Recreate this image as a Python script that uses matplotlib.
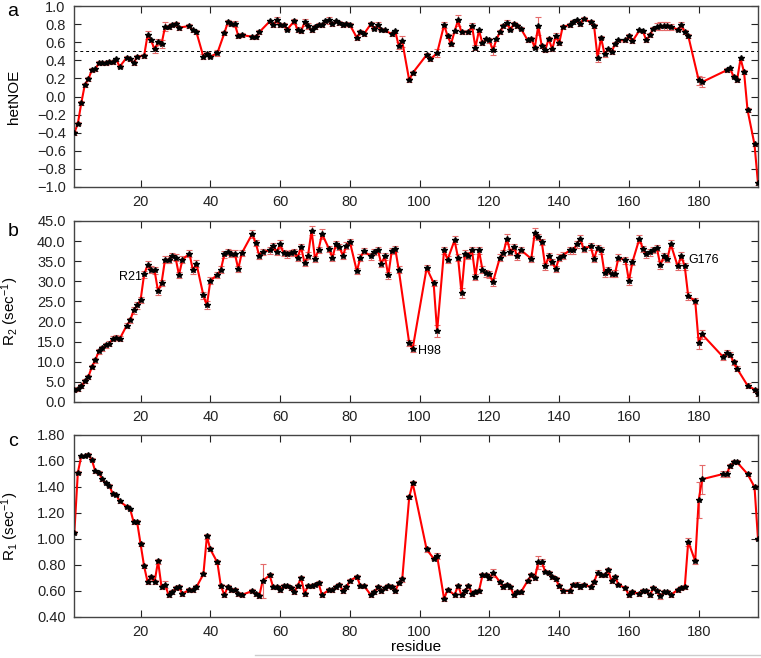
import matplotlib
matplotlib.use('Agg')
import matplotlib.pyplot as plt
from matplotlib.lines import Line2D

plt.rcParams['font.family'] = ['Liberation Sans', 'DejaVu Sans']
plt.rcParams['mathtext.fontset'] = 'custom'
plt.rcParams['mathtext.rm'] = 'Liberation Sans'
plt.rcParams['mathtext.it'] = 'Liberation Sans'

# ---- panel a: hetNOE ----
res_a = [1, 2, 3, 4, 5, 6, 7, 8, 9, 10,
         11, 12, 13, 14, 16, 17, 18, 19, 21, 22,
         23, 24, 25, 26, 27, 28, 29, 30, 31, 34,
         35, 36, 38, 39, 40, 42, 44, 45, 46, 47,
         48, 49, 52, 53, 54, 57, 58, 59, 60, 61,
         62, 64, 65, 66, 67, 68, 69, 70, 71, 72,
         73, 74, 75, 76, 77, 78, 79, 80, 82, 83,
         84, 86, 87, 88, 89, 90, 92, 93, 94, 95,
         97, 98, 102, 103, 105, 107, 108, 109, 110, 111,
         112, 114, 115, 116, 117, 118, 119, 120, 121, 122,
         123, 124, 125, 126, 127, 128, 129, 131, 132, 133,
         134, 135, 136, 137, 138, 139, 140, 141, 143, 144,
         145, 146, 147, 149, 150, 151, 152, 153, 154, 155,
         156, 157, 159, 160, 161, 163, 164, 165, 166, 167,
         168, 169, 170, 171, 172, 174, 175, 176, 177, 180,
         181, 188, 189, 190, 191, 192, 193, 194, 196, 197]
noe = [-0.40, -0.30, -0.07, 0.13, 0.19, 0.29, 0.30, 0.37, 0.37, 0.37,
       0.38, 0.38, 0.41, 0.33, 0.43, 0.41, 0.37, 0.44, 0.45, 0.68,
       0.62, 0.52, 0.60, 0.58, 0.77, 0.77, 0.79, 0.80, 0.76, 0.78,
       0.73, 0.71, 0.44, 0.47, 0.44, 0.48, 0.70, 0.82, 0.80, 0.80,
       0.67, 0.68, 0.66, 0.66, 0.71, 0.83, 0.79, 0.84, 0.79, 0.79,
       0.74, 0.83, 0.74, 0.72, 0.82, 0.78, 0.73, 0.77, 0.79, 0.79,
       0.83, 0.84, 0.80, 0.83, 0.81, 0.79, 0.80, 0.79, 0.65, 0.71,
       0.69, 0.80, 0.75, 0.79, 0.74, 0.73, 0.69, 0.72, 0.56, 0.61,
       0.18, 0.26, 0.46, 0.41, 0.48, 0.79, 0.67, 0.58, 0.72, 0.84,
       0.71, 0.71, 0.78, 0.54, 0.73, 0.59, 0.63, 0.62, 0.51, 0.63,
       0.71, 0.78, 0.81, 0.74, 0.80, 0.78, 0.75, 0.62, 0.64, 0.54,
       0.78, 0.56, 0.51, 0.64, 0.52, 0.67, 0.59, 0.77, 0.79, 0.82,
       0.84, 0.80, 0.86, 0.82, 0.78, 0.43, 0.65, 0.47, 0.52, 0.49,
       0.58, 0.62, 0.62, 0.67, 0.61, 0.73, 0.72, 0.62, 0.68, 0.75,
       0.77, 0.78, 0.78, 0.78, 0.77, 0.74, 0.79, 0.71, 0.67, 0.18,
       0.16, 0.29, 0.31, 0.22, 0.18, 0.42, 0.27, -0.15, -0.53, -0.96]
noe_err = [.02, .02, .02, .02, .02, .02, .02, .02, .02, .02,
           .02, .02, .02, .02, .02, .02, .02, .02, .02, .04,
           .02, .04, .03, .04, .05, .02, .02, .02, .02, .02,
           .02, .02, .03, .02, .02, .03, .02, .03, .02, .03,
           .02, .02, .02, .02, .02, .02, .02, .04, .02, .02,
           .02, .03, .03, .02, .04, .03, .02, .02, .02, .02,
           .02, .04, .02, .02, .02, .02, .02, .02, .03, .02,
           .02, .02, .02, .03, .02, .02, .02, .02, .04, .06,
           .02, .02, .02, .02, .04, .03, .02, .02, .02, .06,
           .02, .02, .03, .03, .02, .02, .02, .03, .05, .02,
           .02, .02, .03, .02, .02, .02, .02, .02, .02, .02,
           .10, .02, .02, .02, .02, .03, .02, .02, .02, .02,
           .02, .02, .02, .02, .02, .05, .02, .03, .02, .02,
           .02, .02, .02, .02, .02, .02, .02, .02, .02, .02,
           .04, .04, .04, .04, .03, .02, .03, .02, .02, .05,
           .05, .02, .02, .02, .02, .02, .02, .02, .02, .02]

# ---- panel b: R2 ----
res_b = [1, 2, 3, 4, 5, 6, 7, 8, 9, 10,
         11, 12, 13, 14, 16, 17, 18, 19, 20, 21,
         22, 23, 24, 25, 26, 27, 28, 29, 30, 31,
         32, 34, 35, 36, 38, 39, 40, 42, 43, 44,
         45, 46, 47, 48, 49, 52, 53, 54, 55, 57,
         58, 59, 60, 61, 62, 63, 64, 65, 66, 67,
         68, 69, 70, 71, 72, 74, 75, 76, 77, 78,
         79, 80, 82, 83, 84, 86, 87, 88, 89, 90,
         91, 92, 93, 94, 97, 98, 102, 104, 105, 107,
         108, 110, 111, 112, 113, 114, 115, 116, 117, 118,
         119, 120, 121, 123, 124, 125, 126, 127, 128, 129,
         132, 133, 134, 135, 136, 137, 138, 139, 140, 141,
         143, 144, 145, 146, 147, 149, 150, 151, 152, 153,
         154, 155, 156, 157, 159, 160, 161, 163, 164, 165,
         166, 167, 168, 169, 170, 171, 172, 174, 175, 176,
         177, 179, 180, 181, 187, 188, 189, 190, 191, 194,
         196, 197]
r2 = [3.0, 3.3, 3.9, 5.2, 6.2, 8.7, 10.4, 12.6, 13.4, 14.1,
      14.5, 15.7, 16.0, 15.7, 19.0, 20.3, 22.8, 24.0, 25.4, 31.7,
      34.1, 32.9, 32.7, 27.5, 29.6, 35.4, 35.4, 36.2, 35.9, 31.6,
      35.4, 36.9, 32.7, 34.4, 26.5, 24.0, 30.2, 31.6, 32.9, 36.7,
      37.3, 36.9, 36.9, 33.1, 37.0, 41.8, 39.5, 36.4, 37.3, 37.7,
      38.7, 37.3, 39.2, 37.0, 36.7, 37.0, 37.2, 35.9, 38.5, 34.6,
      36.4, 42.6, 35.6, 37.8, 41.8, 38.1, 35.9, 39.2, 38.5, 36.4,
      38.9, 39.8, 32.5, 35.9, 37.5, 36.2, 37.3, 37.8, 34.4, 36.2,
      31.5, 37.5, 38.1, 32.9, 14.7, 13.3, 33.3, 29.6, 17.6, 37.7,
      35.4, 40.2, 35.9, 27.1, 36.9, 36.4, 37.7, 31.1, 37.7, 32.9,
      32.0, 31.7, 29.8, 35.9, 37.0, 40.6, 37.3, 38.5, 36.2, 37.8,
      35.6, 42.0, 41.0, 39.8, 33.7, 36.2, 34.8, 33.1, 35.9, 36.4,
      37.7, 37.7, 39.2, 40.6, 38.1, 38.7, 35.6, 38.3, 37.7, 32.0,
      32.7, 31.9, 31.9, 35.9, 35.2, 30.1, 34.8, 40.6, 38.1, 36.7,
      37.2, 37.8, 38.3, 34.0, 36.2, 35.6, 39.2, 33.7, 36.4, 33.7,
      26.3, 25.1, 14.7, 16.8, 11.2, 12.2, 11.8, 9.9, 8.3, 4.1,
      3.1, 2.1]
r2_err = [0.5, 0.5, 0.5, 0.5, 0.5, 0.6, 0.6, 0.6, 0.6, 0.6,
          0.6, 0.6, 0.6, 0.6, 0.7, 0.7, 0.8, 0.8, 0.8, 0.8,
          1.0, 0.8, 0.8, 1.0, 0.8, 0.8, 0.8, 0.8, 0.8, 0.8,
          0.8, 0.8, 0.8, 0.8, 0.8, 1.0, 0.8, 0.8, 0.8, 0.8,
          0.8, 0.8, 0.8, 0.8, 0.8, 1.0, 0.8, 0.8, 0.8, 0.8,
          0.8, 0.8, 1.0, 0.8, 0.8, 0.8, 0.8, 0.8, 0.8, 0.8,
          0.8, 1.2, 0.8, 0.8, 1.2, 0.8, 0.8, 0.8, 0.8, 0.8,
          0.8, 0.8, 0.8, 0.8, 0.8, 0.8, 0.8, 0.8, 0.8, 0.8,
          0.8, 0.8, 0.8, 0.8, 0.8, 0.8, 0.8, 0.8, 1.5, 0.8,
          0.8, 1.0, 0.8, 1.2, 0.8, 0.8, 0.8, 0.8, 0.8, 0.8,
          0.8, 0.8, 1.0, 0.8, 0.8, 1.2, 0.8, 0.8, 0.8, 0.8,
          0.8, 1.2, 0.8, 0.8, 0.8, 0.8, 0.8, 0.8, 0.8, 0.8,
          0.8, 0.8, 0.8, 1.0, 0.8, 0.8, 0.8, 0.8, 0.8, 0.8,
          0.8, 0.8, 0.8, 0.8, 0.8, 1.0, 0.8, 1.0, 0.8, 0.8,
          0.8, 0.8, 0.8, 1.0, 0.8, 0.8, 1.0, 0.8, 1.0, 0.8,
          1.0, 0.8, 1.5, 1.2, 0.8, 0.8, 0.6, 0.6, 0.6, 0.5,
          0.5, 0.5]

# ---- panel c: R1 ----
res_c = [1, 2, 3, 4, 5, 6, 7, 8, 9, 10,
         11, 12, 13, 14, 16, 17, 18, 19, 20, 21,
         22, 23, 24, 25, 26, 27, 28, 29, 30, 31,
         32, 34, 35, 36, 38, 39, 40, 42, 43, 44,
         45, 46, 47, 48, 49, 52, 53, 54, 55, 57,
         58, 59, 60, 61, 62, 63, 64, 65, 66, 67,
         68, 69, 70, 71, 72, 74, 75, 76, 77, 78,
         79, 80, 82, 83, 84, 86, 87, 88, 89, 90,
         91, 92, 93, 94, 95, 97, 98, 102, 104, 105,
         107, 108, 110, 111, 112, 113, 114, 115, 116, 117,
         118, 119, 120, 121, 123, 124, 125, 126, 127, 128,
         129, 131, 132, 133, 134, 135, 136, 137, 138, 139,
         140, 141, 143, 144, 145, 146, 147, 149, 150, 151,
         152, 153, 154, 155, 156, 157, 159, 160, 161, 163,
         164, 165, 166, 167, 168, 169, 170, 171, 172, 174,
         175, 176, 177, 179, 180, 181, 187, 188, 189, 190,
         191, 194, 196, 197]
r1 = [1.05, 1.51, 1.64, 1.64, 1.65, 1.61, 1.52, 1.51, 1.46, 1.43,
      1.41, 1.35, 1.34, 1.29, 1.25, 1.23, 1.13, 1.13, 0.96, 0.79,
      0.67, 0.71, 0.67, 0.83, 0.63, 0.65, 0.57, 0.59, 0.62, 0.63,
      0.58, 0.61, 0.61, 0.63, 0.73, 1.02, 0.92, 0.82, 0.64, 0.57,
      0.63, 0.61, 0.61, 0.58, 0.57, 0.60, 0.58, 0.56, 0.68, 0.72,
      0.63, 0.63, 0.61, 0.64, 0.64, 0.62, 0.59, 0.64, 0.70, 0.58,
      0.64, 0.64, 0.65, 0.66, 0.57, 0.61, 0.61, 0.63, 0.65, 0.60,
      0.63, 0.68, 0.71, 0.64, 0.64, 0.57, 0.59, 0.63, 0.60, 0.62,
      0.64, 0.63, 0.60, 0.66, 0.69, 1.32, 1.43, 0.92, 0.85, 0.87,
      0.54, 0.61, 0.57, 0.64, 0.57, 0.60, 0.64, 0.58, 0.59, 0.60,
      0.72, 0.72, 0.70, 0.74, 0.67, 0.63, 0.65, 0.63, 0.57, 0.59,
      0.59, 0.68, 0.72, 0.70, 0.82, 0.82, 0.75, 0.74, 0.71, 0.69,
      0.64, 0.60, 0.60, 0.65, 0.65, 0.63, 0.65, 0.63, 0.67, 0.74,
      0.72, 0.72, 0.76, 0.68, 0.71, 0.65, 0.62, 0.57, 0.59, 0.58,
      0.60, 0.60, 0.57, 0.62, 0.60, 0.56, 0.59, 0.59, 0.57, 0.61,
      0.62, 0.63, 0.98, 0.83, 1.30, 1.46, 1.50, 1.50, 1.56, 1.59,
      1.59, 1.50, 1.40, 1.00]
r1_err = [.01, .01, .01, .01, .01, .01, .01, .01, .01, .01,
          .01, .01, .01, .01, .01, .01, .015, .015, .015, .015,
          .015, .015, .015, .02, .015, .03, .015, .015, .015, .015,
          .015, .015, .015, .015, .015, .02, .015, .015, .015, .015,
          .015, .015, .015, .015, .015, .015, .015, .015, .13, .015,
          .015, .015, .015, .015, .015, .015, .015, .015, .015, .015,
          .015, .015, .015, .015, .015, .015, .015, .015, .015, .015,
          .015, .015, .015, .015, .015, .015, .015, .015, .015, .015,
          .015, .015, .015, .015, .02, .015, .015, .02, .015, .02,
          .015, .015, .015, .015, .015, .015, .015, .015, .015, .015,
          .015, .015, .015, .03, .015, .015, .015, .015, .015, .015,
          .015, .015, .015, .015, .05, .03, .015, .015, .015, .015,
          .015, .015, .015, .015, .02, .015, .015, .015, .015, .02,
          .015, .015, .015, .015, .015, .015, .015, .015, .015, .015,
          .015, .015, .015, .015, .015, .02, .015, .015, .015, .015,
          .015, .015, .03, .02, .14, .11, .02, .02, .015, .015,
          .015, .015, .015, .01]

fig = plt.figure(figsize=(7.61, 6.58), dpi=100)
W, H = 761, 658

def make_axes(top, bottom):
    return fig.add_axes([74 / W, 1 - bottom / H, 684 / W, (bottom - top) / H])

ax_a = make_axes(6, 187)
ax_b = make_axes(221, 402)
ax_c = make_axes(435, 617)

panels = [
    (ax_a, res_a, noe, noe_err, 'hetNOE', (-1.0, 1.0), 0.2, '{:.1f}'),
    (ax_b, res_b, r2, r2_err, r'R$_2$ (sec$^{-1}$)', (0.0, 45.0), 5.0, '{:.1f}'),
    (ax_c, res_c, r1, r1_err, r'R$_1$ (sec$^{-1}$)', (0.40, 1.80), 0.20, '{:.2f}'),
]

for ax, res, vals, err, ylab, ylim, step, fmt in panels:
    ax.errorbar(res, vals, yerr=err, fmt='none', ecolor='#e46a6a',
                elinewidth=0.8, capsize=2.5, capthick=0.8, zorder=1)
    ax.plot(res, vals, color='#ff0000', lw=1.5, zorder=2)
    ax.plot(res, vals, ls='none', marker='*', ms=3.8, color='black', zorder=3)
    ax.set_xlim(0.9, 197)
    ax.set_ylim(*ylim)
    ax.set_xticks(range(20, 181, 20))
    n = int(round((ylim[1] - ylim[0]) / step))
    yt = [ylim[0] + i * step for i in range(n + 1)]
    ax.set_yticks(yt)
    ax.set_yticklabels([fmt.format(v).replace('-', '\u2212') for v in yt])
    ax.tick_params(direction='in', top=True, right=True, length=5, width=0.8,
                   labelsize=10.5, pad=6, colors='#222222')
    for s in ax.spines.values():
        s.set_color('#444444')
        s.set_linewidth(1.0)
    ax.set_ylabel(ylab, fontsize=11)
    ax.yaxis.set_label_coords(-0.078, 0.5)

ax_a.axhline(0.5, color='black', ls=(0, (3, 3)), lw=0.7, zorder=0)

ax_b.text(20.3, 31.2, 'R21', ha='right', va='center', fontsize=9)
ax_b.text(99.4, 12.8, 'H98', ha='left', va='center', fontsize=9)
ax_b.text(176.9, 35.2, 'G176', ha='left', va='center', fontsize=9)

for letter, y in [('a', 12), ('b', 232), ('c', 442)]:
    fig.text(13 / W, 1 - y / H, letter, ha='center', va='center', fontsize=14)

fig.text(416 / W, 1 - 647 / H, 'residue', ha='center', va='center', fontsize=11)
fig.add_artist(Line2D([255 / W, 1.0], [1 - 655 / H, 1 - 655 / H], color='#cccccc', lw=1))

fig.savefig('out.png', dpi=100)
